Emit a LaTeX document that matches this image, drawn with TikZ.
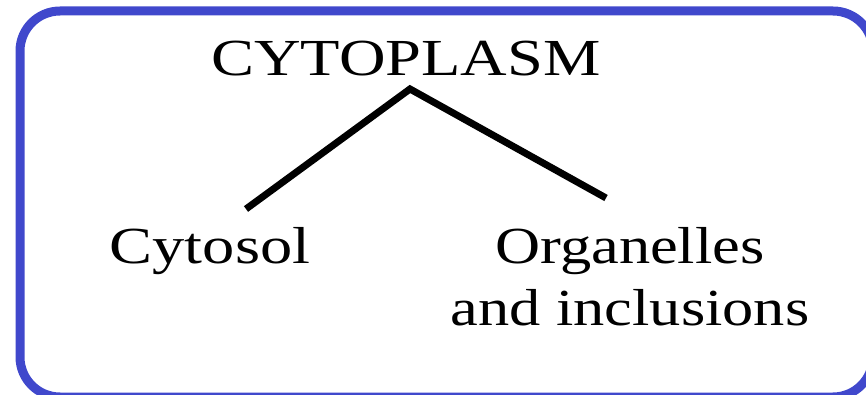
\documentclass[tikz,border=0pt]{standalone}
\usepackage{fontspec}
\setmainfont{Liberation Serif}
\definecolor{boxblue}{RGB}{64,72,204}
\begin{document}
\begin{tikzpicture}[x=1pt,y=1pt,
  lbl/.style={inner sep=0pt, anchor=base, font=\fontsize{52}{62}\selectfont},
  branch/.style={line width=7pt, black}]
\useasboundingbox (0,0) rectangle (866,394);
\begin{scope}
\clip (0,0) rectangle (866,394);
\draw[boxblue, line width=9pt, rounded corners=40pt] (20,-3) rectangle (873,383);
\end{scope}
\node[lbl] (cyto) at (406,318) {\scalebox{1.24}[1]{CYTOPLASM}};
\node[lbl] (cytosol) at (210,131) {\scalebox{1.24}[1]{Cytosol}};
\node[lbl] (org) at (630,131) {\scalebox{1.2}[1]{\fontsize{52}{62}\selectfont\begin{tabular}[t]{@{}c@{}}Organelles\\and inclusions\end{tabular}}};
\coordinate (apex) at (410,305);
\coordinate (lend) at (246,185);
\coordinate (rend) at (606,196);
\draw[branch] (lend) -- (apex) -- (rend);
\end{tikzpicture}
\end{document}
